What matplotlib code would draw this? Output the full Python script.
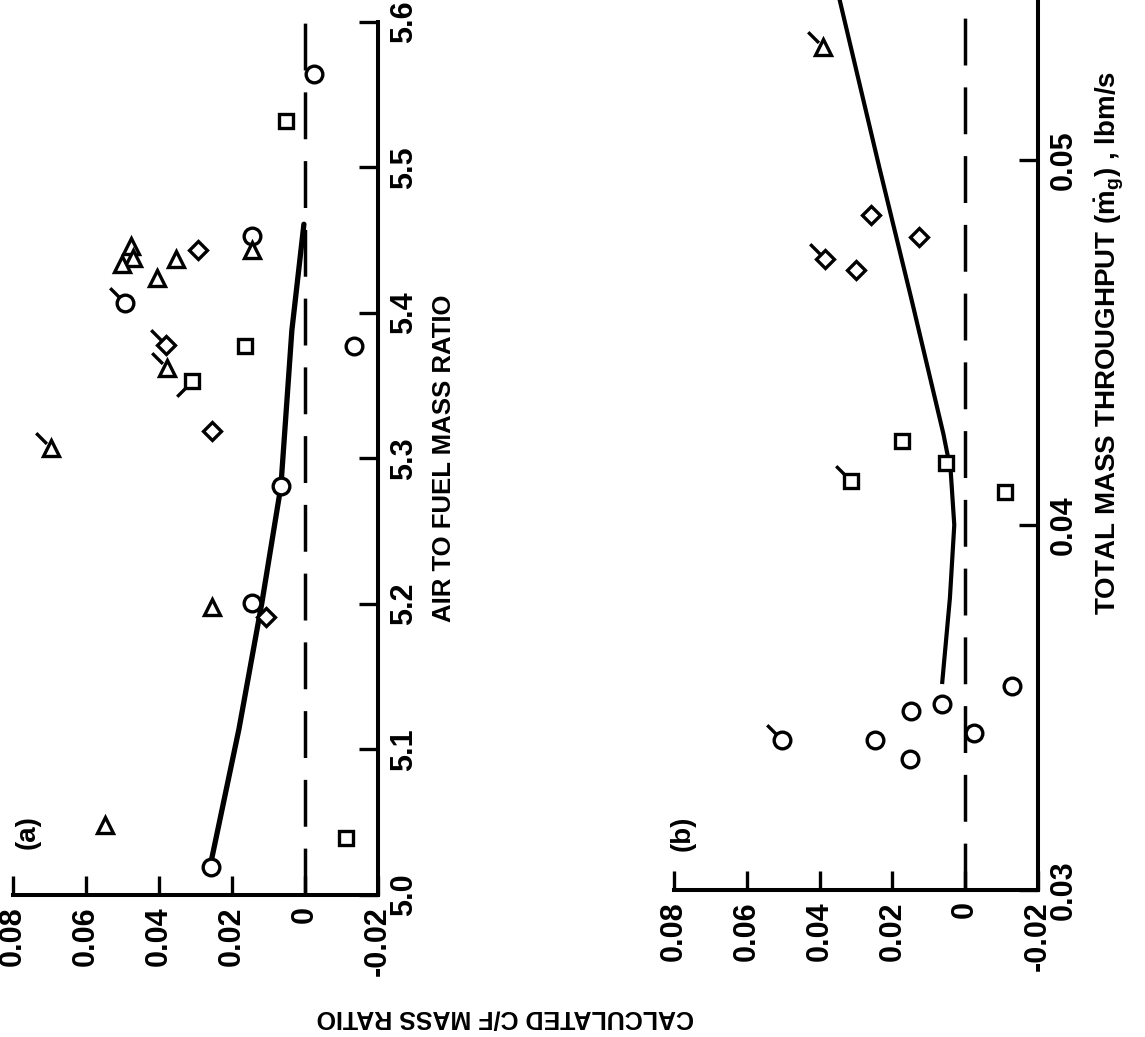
import numpy as np
import matplotlib
matplotlib.use("Agg")
import matplotlib.pyplot as plt
from matplotlib.path import Path

plt.rcParams['font.family'] = ['Liberation Sans', 'DejaVu Sans']
plt.rcParams['font.weight'] = 'bold'
plt.rcParams['axes.labelweight'] = 'bold'
plt.rcParams['mathtext.fontset'] = 'custom'
plt.rcParams['mathtext.rm'] = 'Liberation Sans:bold'
plt.rcParams['mathtext.bf'] = 'Liberation Sans:bold'
plt.rcParams['mathtext.it'] = 'Liberation Sans:bold'

# ---- panel (a): C/F ratio vs air to fuel mass ratio ----
a_curve_cf = [0.0258, 0.0181, 0.0118, 0.0066, 0.0036, 0.0003]
a_curve_af = [5.022, 5.114, 5.201, 5.281, 5.388, 5.461]

a_circle_cf = [0.0258, 0.0145, 0.0066, -0.0134, 0.0145, -0.0025]
a_circle_af = [5.019, 5.201, 5.281, 5.377, 5.453, 5.564]
a_square_cf = [-0.0112, 0.0164, 0.0052]
a_square_af = [5.039, 5.377, 5.532]
a_tri_cf = [0.0548, 0.0255, 0.0145, 0.0405, 0.0353, 0.0477, 0.0471, 0.0501]
a_tri_af = [5.048, 5.198, 5.443, 5.424, 5.437, 5.446, 5.438, 5.434]
a_diam_cf = [0.0107, 0.0255, 0.0293]
a_diam_af = [5.191, 5.319, 5.443]

# flagged points
a_fcircle_cf = [0.0493]
a_fcircle_af = [5.407]
a_fdiam_cf = [0.0380]
a_fdiam_af = [5.378]
a_ftri_cf = [0.0378, 0.0696]
a_ftri_af = [5.362, 5.307]
a_fsquare_cf = [0.0310]   # flag points down-left
a_fsquare_af = [5.353]

a_af_ticks = [5.0, 5.1, 5.2, 5.3, 5.4, 5.5, 5.6]
a_af_labels = ['5.0', '5.1', '5.2', '5.3', '5.4', '5.5', '5.6']

# ---- panel (b): C/F ratio vs total mass throughput ----
b_curve_cf = [0.0063, 0.0042, 0.0030, 0.0040, 0.0060, 0.0148, 0.0236, 0.0350]
b_curve_m = [0.0357, 0.0380, 0.0400, 0.0415, 0.0425, 0.0462, 0.0498, 0.0546]

b_circle_cf = [-0.0129, 0.0063, 0.0148, -0.0025, 0.0247, 0.0151]
b_circle_m = [0.0356, 0.0351, 0.0349, 0.0343, 0.0341, 0.0336]
b_square_cf = [0.0173, 0.0052, -0.0110]
b_square_m = [0.0423, 0.0417, 0.0409]
b_diam_cf = [0.0260, 0.0126, 0.0301]
b_diam_m = [0.0485, 0.0479, 0.0470]

b_fcircle_cf = [0.0504]
b_fcircle_m = [0.0341]
b_fsquare_cf = [0.0315]
b_fsquare_m = [0.0412]
b_fdiam_cf = [0.0386]
b_fdiam_m = [0.0473]
b_ftri_cf = [0.0392]
b_ftri_m = [0.0531]

b_m_ticks = [0.03, 0.04, 0.05]
b_m_labels = ['0.03', '0.04', '0.05']

cf_ticks = [0.08, 0.06, 0.04, 0.02, 0.0, -0.02]
cf_labels = ['0.08', '0.06', '0.04', '0.02', '0', '-0.02']

# flag markers (short tail off the symbol)
flag_ul = Path([(-0.3, 0.3), (-1.0, 1.0)], [Path.MOVETO, Path.LINETO])
flag_dl = Path([(-0.3, -0.3), (-1.0, -1.0)], [Path.MOVETO, Path.LINETO])

SPINE = 2.9
TICKFS = 22


def style_axes(ax, vticks, vlabels):
    for s in ['top', 'left']:
        ax.spines[s].set_visible(False)
    for s in ['bottom', 'right']:
        ax.spines[s].set_linewidth(SPINE)
    ax.set_xticks(cf_ticks)
    ax.set_xticklabels(cf_labels)
    ax.set_yticks(vticks)
    ax.set_yticklabels(vlabels)
    ax.yaxis.tick_right()
    ax.tick_params(axis='both', direction='in', length=14, width=2.4,
                   labelsize=TICKFS, pad=8)
    ax.tick_params(axis='x', labelrotation=90)
    ax.tick_params(axis='y', labelrotation=90, left=False, right=True,
                   labelleft=False, labelright=True)
    for lbl in ax.get_yticklabels():
        lbl.set_va('center')
    for lbl in ax.get_xticklabels():
        lbl.set_ha('center')
        lbl.set_va('top')
    ax.axvline(0, color='black', lw=2.5, dashes=(13.5, 6.3), zorder=1)


def points(ax, x, y, marker, ms, mew=2.4, z=4):
    ax.plot(x, y, linestyle='none', marker=marker, ms=ms, mew=mew,
            mec='black', mfc='white', zorder=z, clip_on=False)


def flags(ax, x, y, path):
    ax.plot(x, y, linestyle='none', marker=path, ms=22, mew=2.4,
            mec='black', mfc='none', zorder=3, clip_on=False)


fig = plt.figure(figsize=(11.45, 10.37), dpi=100)

# panel (a)
axa = fig.add_axes([13 / 1145, (1037 - 895) / 1037, 365 / 1145, 873 / 1037])
axa.set_xlim(0.08, -0.02)
axa.set_ylim(5.0, 5.6)
style_axes(axa, a_af_ticks, a_af_labels)
axa.plot(a_curve_cf, a_curve_af, color='black', lw=3.8, zorder=2,
         solid_capstyle='round')
points(axa, a_circle_cf, a_circle_af, 'o', 12)
points(axa, a_square_cf, a_square_af, 's', 10)
points(axa, a_tri_cf, a_tri_af, '^', 11)
points(axa, a_diam_cf, a_diam_af, 'D', 9.5)
points(axa, a_fcircle_cf, a_fcircle_af, 'o', 12)
points(axa, a_fdiam_cf, a_fdiam_af, 'D', 9.5)
points(axa, a_ftri_cf, a_ftri_af, '^', 11)
points(axa, a_fsquare_cf, a_fsquare_af, 's', 10)
flags(axa, a_fcircle_cf + a_fdiam_cf + a_ftri_cf,
      a_fcircle_af + a_fdiam_af + a_ftri_af, flag_ul)
flags(axa, a_fsquare_cf, a_fsquare_af, flag_dl)
axa.yaxis.set_label_position('right')
axa.set_ylabel('AIR TO FUEL MASS RATIO', fontsize=18.5, rotation=90,
               fontweight='bold')
axa.yaxis.set_label_coords((432 - 13) / 365, 0.5)
axa.text(0.041, 0.072, '(a)', transform=axa.transAxes, rotation=90,
         fontsize=20, fontweight='bold', ha='center', va='center')

# panel (b) - the mass axis runs on past the top of the sheet
axb = fig.add_axes([674 / 1145, (1037 - 890) / 1037, 364 / 1145, 1095 / 1037])
axb.set_xlim(0.08, -0.02)
axb.set_ylim(0.03, 0.06)
style_axes(axb, b_m_ticks, b_m_labels)
axb.plot(b_curve_cf, b_curve_m, color='black', lw=3.0, zorder=2)
points(axb, b_circle_cf, b_circle_m, 'o', 12)
points(axb, b_square_cf, b_square_m, 's', 10)
points(axb, b_diam_cf, b_diam_m, 'D', 9.5)
points(axb, b_fcircle_cf, b_fcircle_m, 'o', 12)
points(axb, b_fsquare_cf, b_fsquare_m, 's', 10)
points(axb, b_fdiam_cf, b_fdiam_m, 'D', 9.5)
points(axb, b_ftri_cf, b_ftri_m, '^', 11)
flags(axb, b_fcircle_cf + b_fsquare_cf + b_fdiam_cf + b_ftri_cf,
      b_fcircle_m + b_fsquare_m + b_fdiam_m + b_ftri_m, flag_ul)
axb.yaxis.set_label_position('right')
axb.set_ylabel(r'TOTAL MASS THROUGHPUT ($\dot{\mathbf{m}}_{\mathbf{g}}$) , lbm/s',
               fontsize=20, rotation=90, fontweight='bold')
axb.yaxis.set_label_coords((1093 - 674) / 364, 0.5)
axb.text(0.025, 0.052, '(b)', transform=axb.transAxes, rotation=90,
         fontsize=20, fontweight='bold', ha='center', va='center')

# shared value label, upside down
fig.text(505 / 1145, (1037 - 1018) / 1037, 'CALCULATED C/F MASS RATIO',
         rotation=180, fontsize=18, fontweight='bold', ha='center',
         va='center')

fig.savefig('out.png', dpi=100)
